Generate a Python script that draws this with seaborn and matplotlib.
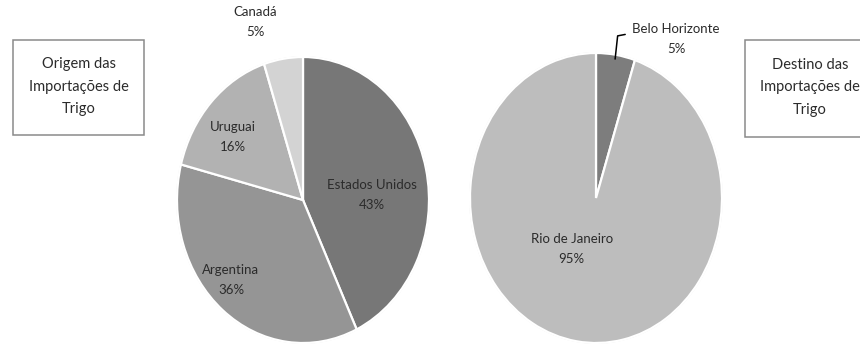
import numpy as np
import matplotlib
matplotlib.use("Agg")
import matplotlib.pyplot as plt
from matplotlib.patches import Rectangle
import seaborn as sns

# Origin of wheat imports (share, %)
origem_labels = ["Estados Unidos", "Argentina", "Uruguai", "Canadá"]
origem_values = [43, 36, 16, 5]

# Destination of wheat imports (share, %)
destino_labels = ["Belo Horizonte", "Rio de Janeiro"]
destino_values = [5, 95]

# Box titles
titulo_origem = "Origem das\nImportações de\nTrigo"
titulo_destino = "Destino das\nImportações de\nTrigo"

sns.set_theme(style="white")
plt.rcParams["font.family"] = ["Lato", "DejaVu Sans"]

origem_colors = ["#777777", "#959595", "#b2b2b2", "#d3d3d3"]
destino_colors = ["#7d7d7d", "#bdbdbd"]
text_color = "#2b2b2b"
label_ls = 1.8

W, H = 860, 350
fig = plt.figure(figsize=(W / 100, H / 100), dpi=100)
fig.patch.set_facecolor("white")


def px_axes(x0, y0, x1, y1):
    """Axes from pixel box (top-left origin)."""
    return fig.add_axes([x0 / W, 1 - y1 / H, (x1 - x0) / W, (y1 - y0) / H])


def draw_pie(ax, values, colors):
    wedges, _ = ax.pie(values, colors=colors, startangle=90, counterclock=False,
                       wedgeprops=dict(edgecolor="white", linewidth=1.6))
    ax.set_aspect("auto")
    ax.set_xlim(-1.0, 1.0)
    ax.set_ylim(-1.0, 1.0)
    ax.axis("off")
    # soft outer rim
    t = np.linspace(0, 2 * np.pi, 400)
    ax.plot(np.cos(t) * 1.0, np.sin(t) * 1.0, color="#e4e4e4", lw=1.2, zorder=0,
            clip_on=False)
    return wedges


def mid_angle(w):
    return np.deg2rad((w.theta1 + w.theta2) / 2)


# Left pie: origin
ax1 = px_axes(177, 57, 429, 343)
w1 = draw_pie(ax1, origem_values, origem_colors)
# label radial distance and angular nudge (degrees) per slice
origem_pos = [(0.55, -9), (0.80, -6), (0.71, 5), (1.30, 8)]
for w, lab, v, (r, da) in zip(w1, origem_labels, origem_values, origem_pos):
    a = mid_angle(w) + np.deg2rad(da)
    ax1.text(r * np.cos(a), r * np.sin(a), f"{lab}\n{v}%", ha="center", va="center",
             fontsize=9.5, color=text_color, linespacing=label_ls, clip_on=False)

# Right pie: destination
ax2 = px_axes(470, 53, 722, 343)
w2 = draw_pie(ax2, destino_values, destino_colors)

# Belo Horizonte: outside label with leader line
a = mid_angle(w2[0])
ex, ey = np.cos(a) * 0.97, np.sin(a) * 0.97
ax2.plot([ex, ex + 0.02, ex + 0.08], [ey, ey + 0.16, ey + 0.17],
         color="black", lw=1.1, clip_on=False)
ax2.text(ex + 0.485, ey + 0.14, f"{destino_labels[0]}\n{destino_values[0]}%",
         ha="center", va="center", fontsize=9.5, color=text_color,
         linespacing=label_ls, clip_on=False)

# Rio de Janeiro: inside label
a = mid_angle(w2[1]) + np.deg2rad(-20)
ax2.text(0.40 * np.cos(a), 0.40 * np.sin(a), f"{destino_labels[1]}\n{destino_values[1]}%",
         ha="center", va="center", fontsize=9.5, color=text_color,
         linespacing=label_ls)

# Title boxes
def title_box(x0, y0, x1, y1, text, cx):
    fig.patches.append(Rectangle((x0 / W, 1 - y1 / H), (x1 - x0) / W, (y1 - y0) / H,
                                 transform=fig.transFigure, facecolor="white",
                                 edgecolor="#8a8a8a", lw=1.1))
    fig.text(cx / W, 1 - ((y0 + y1) / 2 - 1) / H, text, ha="center", va="center",
             fontsize=10.5, color=text_color, linespacing=1.75)

title_box(13, 40, 144, 135, titulo_origem, 78.5)
title_box(745, 40, 900, 137, titulo_destino, 810)

fig.savefig("out.png", dpi=100, facecolor="white")
